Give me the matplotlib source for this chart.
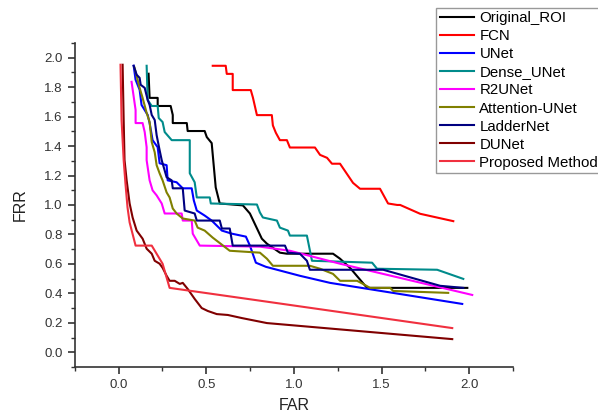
import matplotlib
matplotlib.use("Agg")
import matplotlib.pyplot as plt
from matplotlib.ticker import MultipleLocator

plt.rcParams['font.family'] = ['Liberation Sans', 'DejaVu Sans']

# FAR / FRR curves
orig_x = [0.171, 0.177, 0.223, 0.223, 0.297, 0.309, 0.309, 0.389, 0.394, 0.491, 0.503, 0.531,
          0.554, 0.577, 0.709, 0.749, 0.817, 0.846, 0.920, 0.960, 1.223, 1.263, 1.320, 1.417, 1.989]
orig_y = [1.891, 1.727, 1.727, 1.672, 1.672, 1.611, 1.556, 1.556, 1.502, 1.502, 1.461, 1.420,
          1.119, 1.010, 0.997, 0.942, 0.771, 0.737, 0.676, 0.669, 0.669, 0.635, 0.573, 0.437, 0.437]

fcn_x = [0.537, 0.611, 0.617, 0.651, 0.651, 0.754, 0.766, 0.789, 0.874, 0.880, 0.897, 0.920,
         0.960, 0.977, 1.120, 1.149, 1.189, 1.217, 1.263, 1.337, 1.377, 1.491, 1.537, 1.589,
         1.606, 1.720, 1.909]
fcn_y = [1.945, 1.945, 1.890, 1.890, 1.780, 1.780, 1.730, 1.610, 1.610, 1.540, 1.490, 1.440,
         1.440, 1.390, 1.390, 1.340, 1.320, 1.280, 1.280, 1.150, 1.110, 1.110, 1.010, 1.000,
         1.000, 0.940, 0.890]

unet_x = [0.086, 0.097, 0.120, 0.131, 0.166, 0.177, 0.194, 0.223, 0.234, 0.274, 0.280, 0.331,
          0.366, 0.417, 0.429, 0.446, 0.491, 0.531, 0.589, 0.646, 0.726, 0.749, 0.783, 0.840,
          1.034, 1.206, 1.960]
unet_y = [1.945, 1.850, 1.782, 1.679, 1.611, 1.556, 1.440, 1.392, 1.283, 1.270, 1.167, 1.154,
          1.113, 1.113, 1.031, 0.962, 0.928, 0.894, 0.826, 0.805, 0.785, 0.724, 0.608, 0.580,
          0.519, 0.471, 0.328]

dense_x = [0.160, 0.166, 0.189, 0.223, 0.229, 0.251, 0.263, 0.303, 0.406, 0.406, 0.434, 0.446,
           0.520, 0.526, 0.789, 0.806, 0.823, 0.903, 0.920, 0.966, 0.977, 1.074, 1.103, 1.446,
           1.474, 1.817, 1.966]
dense_y = [1.945, 1.713, 1.672, 1.672, 1.590, 1.563, 1.495, 1.440, 1.440, 1.215, 1.154, 1.051,
           1.051, 1.010, 1.003, 0.949, 0.915, 0.894, 0.846, 0.826, 0.792, 0.792, 0.621, 0.608,
           0.567, 0.560, 0.498]

r2_x = [0.074, 0.097, 0.097, 0.137, 0.149, 0.160, 0.160, 0.177, 0.194, 0.217, 0.246, 0.263,
        0.360, 0.366, 0.417, 0.423, 0.463, 0.806, 0.977, 1.263, 2.017]
r2_y = [1.836, 1.645, 1.556, 1.556, 1.495, 1.392, 1.304, 1.167, 1.099, 1.065, 1.010, 0.942,
        0.942, 0.894, 0.894, 0.805, 0.724, 0.717, 0.689, 0.601, 0.389]

att_x = [0.091, 0.120, 0.137, 0.160, 0.177, 0.189, 0.206, 0.217, 0.234, 0.251, 0.274, 0.291,
         0.309, 0.331, 0.366, 0.434, 0.451, 0.491, 0.537, 0.634, 0.806, 0.846, 0.880, 1.091,
         1.149, 1.223, 1.263, 1.360, 1.394, 1.434, 1.549, 1.566, 1.880]
att_y = [1.932, 1.795, 1.727, 1.625, 1.563, 1.427, 1.358, 1.270, 1.215, 1.167, 1.085, 1.051,
         0.976, 0.942, 0.908, 0.894, 0.846, 0.826, 0.778, 0.689, 0.676, 0.635, 0.587, 0.587,
         0.567, 0.532, 0.485, 0.485, 0.464, 0.437, 0.437, 0.416, 0.403]

ladder_x = [0.086, 0.103, 0.120, 0.126, 0.149, 0.166, 0.177, 0.189, 0.206, 0.217, 0.234, 0.246,
            0.274, 0.303, 0.309, 0.366, 0.377, 0.434, 0.446, 0.577, 0.589, 0.634, 0.651, 0.949,
            0.966, 1.034, 1.074, 1.091, 1.509, 1.834, 1.966]
ladder_y = [1.945, 1.884, 1.863, 1.816, 1.795, 1.713, 1.679, 1.611, 1.577, 1.474, 1.372, 1.304,
            1.188, 1.167, 1.113, 1.113, 0.962, 0.942, 0.894, 0.894, 0.840, 0.840, 0.724, 0.724,
            0.676, 0.669, 0.621, 0.560, 0.560, 0.451, 0.437]

dunet_x = [0.023, 0.029, 0.034, 0.046, 0.063, 0.080, 0.103, 0.137, 0.160, 0.189, 0.206, 0.234,
           0.251, 0.274, 0.291, 0.320, 0.349, 0.366, 0.394, 0.434, 0.474, 0.509, 0.560, 0.623,
           0.703, 0.846, 1.903]
dunet_y = [1.952, 1.577, 1.304, 1.167, 1.010, 0.915, 0.826, 0.771, 0.703, 0.669, 0.621, 0.601,
           0.573, 0.519, 0.485, 0.485, 0.464, 0.471, 0.430, 0.362, 0.300, 0.280, 0.259, 0.253,
           0.232, 0.198, 0.089]

prop_x = [0.011, 0.017, 0.029, 0.040, 0.051, 0.063, 0.097, 0.189, 0.251, 0.291, 0.777, 1.903]
prop_y = [1.952, 1.577, 1.304, 1.133, 0.983, 0.881, 0.724, 0.724, 0.601, 0.437, 0.355, 0.164]

series = [
    ("Original_ROI", orig_x, orig_y, "#000000"),
    ("FCN", fcn_x, fcn_y, "#ff0000"),
    ("UNet", unet_x, unet_y, "#0000ff"),
    ("Dense_UNet", dense_x, dense_y, "#008b8b"),
    ("R2UNet", r2_x, r2_y, "#ff00ff"),
    ("Attention-UNet", att_x, att_y, "#808000"),
    ("LadderNet", ladder_x, ladder_y, "#000080"),
    ("DUNet", dunet_x, dunet_y, "#800000"),
    ("Proposed Method", prop_x, prop_y, "#f0303f"),
]

fig = plt.figure(figsize=(5.98, 4.17), dpi=100)
ax = fig.add_axes([0.125, 0.12, 0.733, 0.777])

for name, xs, ys, col in series:
    ax.plot(xs, ys, color=col, lw=1.5, label=name)

ax.set_xlim(-0.25, 2.25)
ax.set_ylim(-0.1, 2.1)
ax.xaxis.set_minor_locator(MultipleLocator(0.25))
ax.yaxis.set_minor_locator(MultipleLocator(0.1))
xt = [0.0, 0.5, 1.0, 1.5, 2.0]
yt = [0.0, 0.2, 0.4, 0.6, 0.8, 1.0, 1.2, 1.4, 1.6, 1.8, 2.0]
ax.set_xticks(xt)
ax.set_xticklabels([f"{v:.1f}" for v in xt])
ax.set_yticks(yt)
ax.set_yticklabels([f"{v:.1f}" for v in yt])

for s in ["top", "right"]:
    ax.spines[s].set_visible(False)
for s in ["left", "bottom"]:
    ax.spines[s].set_linewidth(1.2)
    ax.spines[s].set_color("#333333")

ax.tick_params(which="major", direction="out", length=5, width=1.2, color="#333333",
               labelsize=9.5, labelcolor="#333333")
ax.tick_params(which="minor", direction="out", length=3, width=1.0, color="#333333")

ax.set_xlabel("FAR", fontsize=11.5, color="#222222", labelpad=5)
ax.set_ylabel("FRR", fontsize=11.5, color="#222222", labelpad=12)

fig.legend(loc="upper left", bbox_to_anchor=(0.729, 0.982), fontsize=10.8,
           frameon=True, fancybox=False, edgecolor="#999999", framealpha=1,
           handlelength=2.3, handletextpad=0.35, labelspacing=0.27,
           borderpad=0.25, borderaxespad=0.0)

fig.savefig("out.png", dpi=100)
